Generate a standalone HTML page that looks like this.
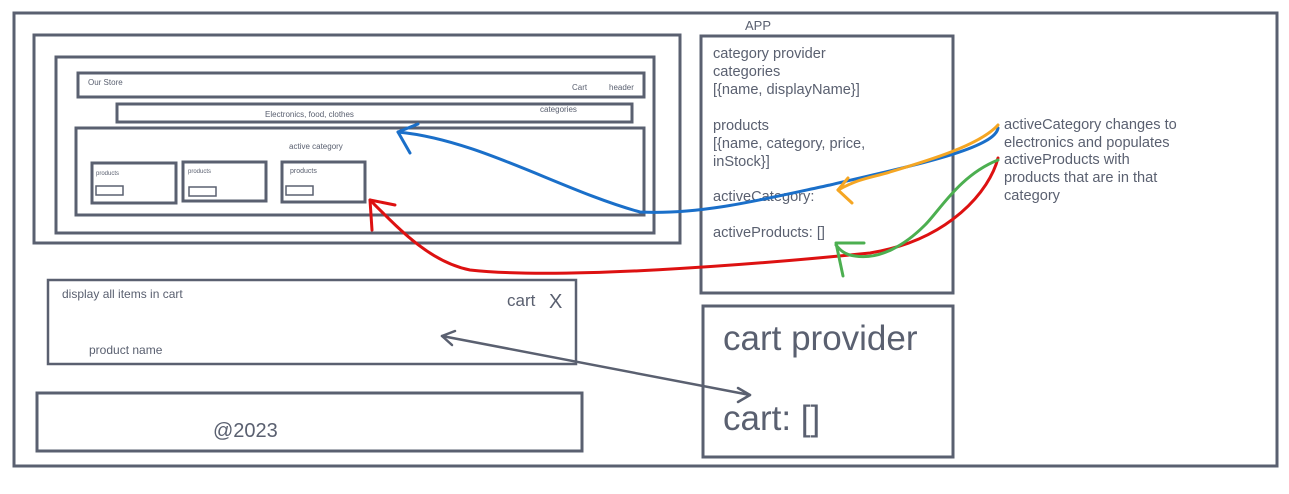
<!DOCTYPE html>
<html><head><meta charset="utf-8"><style>
body{margin:0;background:#fff;width:1289px;height:489px;overflow:hidden}
svg text{font-family:"Liberation Sans",sans-serif;fill:#5a6070}
</style></head><body>
<svg width="1289" height="489" viewBox="0 0 1289 489" xmlns="http://www.w3.org/2000/svg">
<g fill="none" stroke="#5a6070" stroke-width="3">
<rect x="14" y="13" width="1263" height="453"/>
<rect x="34" y="35" width="646" height="208"/>
<rect x="56" y="57" width="598" height="176"/>
<rect x="78" y="73" width="566" height="24"/>
<rect x="117" y="104" width="515" height="18"/>
<rect x="76" y="128" width="568" height="87"/>
<rect x="92" y="163" width="84" height="40"/>
<rect x="183" y="162" width="83" height="39"/>
<rect x="282" y="162" width="83" height="40"/>
<rect x="701" y="36" width="252" height="257"/>
<rect x="48" y="280" width="528" height="84" stroke-width="2.5"/>
<rect x="37" y="393" width="545" height="58"/>
<rect x="703" y="306" width="250" height="151"/>
</g>
<g fill="none" stroke="#5a6070" stroke-width="1.5">
<rect x="96" y="186" width="27" height="9"/>
<rect x="189" y="187" width="27" height="9"/>
<rect x="286" y="186" width="27" height="9"/>
</g>
<text x="88" y="85" font-size="8">Our Store</text>
<text x="572" y="90" font-size="8">Cart</text>
<text x="609" y="90" font-size="8">header</text>
<text x="265" y="117" font-size="8">Electronics, food, clothes</text>
<text x="540" y="112" font-size="8">categories</text>
<text x="289" y="149" font-size="8">active category</text>
<text x="96" y="175" font-size="6">products</text>
<text x="188" y="173" font-size="6">products</text>
<text x="290" y="173" font-size="7">products</text>
<text x="745" y="30" font-size="13">APP</text>
<g font-size="14.6">
<text x="713" y="58">category provider</text>
<text x="713" y="76">categories</text>
<text x="713" y="94">[{name, displayName}]</text>
<text x="713" y="130">products</text>
<text x="713" y="148">[{name, category, price,</text>
<text x="713" y="166">inStock}]</text>
<text x="713" y="201">activeCategory:</text>
<text x="713" y="237">activeProducts: []</text>
<text x="1004" y="129">activeCategory changes to</text>
<text x="1004" y="147">electronics and populates</text>
<text x="1004" y="164">activeProducts with</text>
<text x="1004" y="182">products that are in that</text>
<text x="1004" y="200">category</text>
</g>
<text x="62" y="298" font-size="12">display all items in cart</text>
<text x="507" y="306" font-size="17">cart</text>
<text x="549" y="308" font-size="20">X</text>
<text x="89" y="354" font-size="12">product name</text>
<text x="213" y="437" font-size="20">@2023</text>
<text x="723" y="350" font-size="35">cart provider</text>
<text x="723" y="430" font-size="35">cart: []</text>
<g fill="none" stroke-linecap="round" stroke-linejoin="round">
<path d="M442,336 L750,395" stroke="#5a6070" stroke-width="2.5"/>
<path d="M455,331 L442,336 L452,345" stroke="#5a6070" stroke-width="2.5"/>
<path d="M738,388 L750,395 L738,402" stroke="#5a6070" stroke-width="2.5"/>
<path d="M998,128 C995,150 900,168 830,185 C760,200 700,215 640,212 C560,190 480,140 398,132" stroke="#1a6fc9" stroke-width="3"/>
<path d="M418,124 L398,132 L410,153" stroke="#1a6fc9" stroke-width="3"/>
<path d="M998,125 C980,145 930,160 890,172 C870,178 860,178 838,190" stroke="#f5a623" stroke-width="3"/>
<path d="M848,178 L838,190 L852,203" stroke="#f5a623" stroke-width="3"/>
<path d="M998,158 C990,190 950,240 870,253 C750,265 560,280 470,270 C430,262 400,230 370,200" stroke="#dd1111" stroke-width="3"/>
<path d="M372,230 L370,200 L395,205" stroke="#dd1111" stroke-width="3"/>
<path d="M998,160 C960,175 940,210 925,225 C905,245 880,260 855,256 C845,255 840,250 836,245" stroke="#4caf50" stroke-width="3"/>
<path d="M864,243 L836,243 L843,276" stroke="#4caf50" stroke-width="3"/>
</g>
</svg>
</body></html>
